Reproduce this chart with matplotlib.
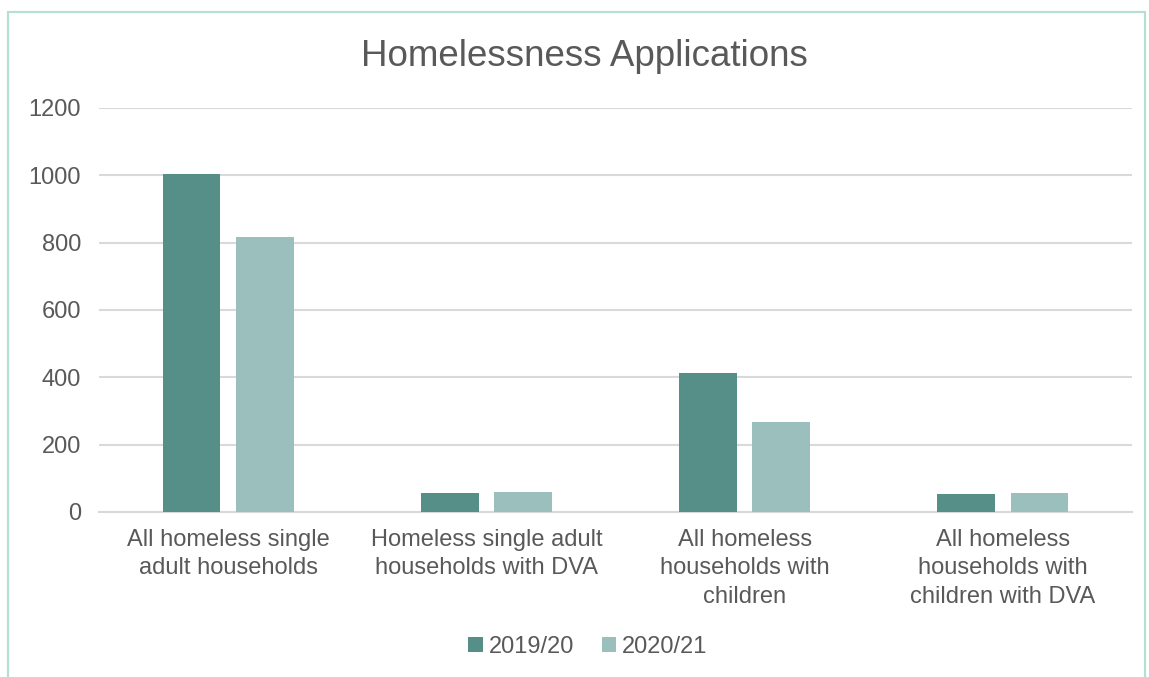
import matplotlib
matplotlib.use("Agg")
import matplotlib.pyplot as plt
import numpy as np
from matplotlib.patches import Rectangle

categories = ["All homeless single\nadult households",
              "Homeless single adult\nhouseholds with DVA",
              "All homeless\nhouseholds with\nchildren",
              "All homeless\nhouseholds with\nchildren with DVA"]
series_names = ["2019/20", "2020/21"]
values_1920 = [1005, 55, 414, 52]
values_2021 = [817, 58, 267, 57]
yticks = [0, 200, 400, 600, 800, 1000, 1200]

plt.rcParams['font.family'] = ['Liberation Sans', 'DejaVu Sans']
text_color = '#595959'
c1 = '#558f88'
c2 = '#9bbfbc'

fig = plt.figure(figsize=(11.49, 6.77), dpi=100)
fig.patches.append(Rectangle((8/1149, -0.05), (1145-8)/1149, 1 - 12/677 + 0.05,
                             transform=fig.transFigure, fill=False,
                             edgecolor='#b3e0d3', linewidth=1.5))
ax = fig.add_axes([99/1149, 165/677, (1132-99)/1149, (512-108)/677])

x = np.arange(len(categories))
w = 0.224
ax.bar(x - 0.142, values_1920, w, color=c1, label=series_names[0], zorder=3)
ax.bar(x + 0.142, values_2021, w, color=c2, label=series_names[1], zorder=3)

ax.set_xlim(-0.5, len(categories) - 0.5)
ax.set_ylim(0, 1200)
ax.set_yticks(yticks)
ax.set_yticklabels([str(v) for v in yticks])
ax.yaxis.grid(True, color='#d9d9d9', linewidth=1.5, zorder=0)
ax.set_axisbelow(True)
for s in ['top', 'right', 'left']:
    ax.spines[s].set_visible(False)
ax.spines['bottom'].set_color('#d9d9d9')
ax.spines['bottom'].set_linewidth(1.5)
ax.tick_params(axis='both', length=0, labelsize=17, colors=text_color)
ax.tick_params(axis='x', pad=12)
ax.tick_params(axis='y', pad=13)
ax.set_xticks(x)
ax.set_xticklabels(categories, linespacing=1.38)

fig.text(584.5 / 1149, 1 - 56/677, "Homelessness Applications",
         ha='center', va='center', fontsize=26.5, color=text_color)

leg = fig.legend(loc='center', bbox_to_anchor=(588/1149, 1 - 647/677), ncol=2,
                 frameon=False, fontsize=17, handlelength=0.6, handleheight=0.6,
                 handletextpad=0.25, columnspacing=1.2)
for t in leg.get_texts():
    t.set_color(text_color)

fig.savefig("out.png", dpi=100)
